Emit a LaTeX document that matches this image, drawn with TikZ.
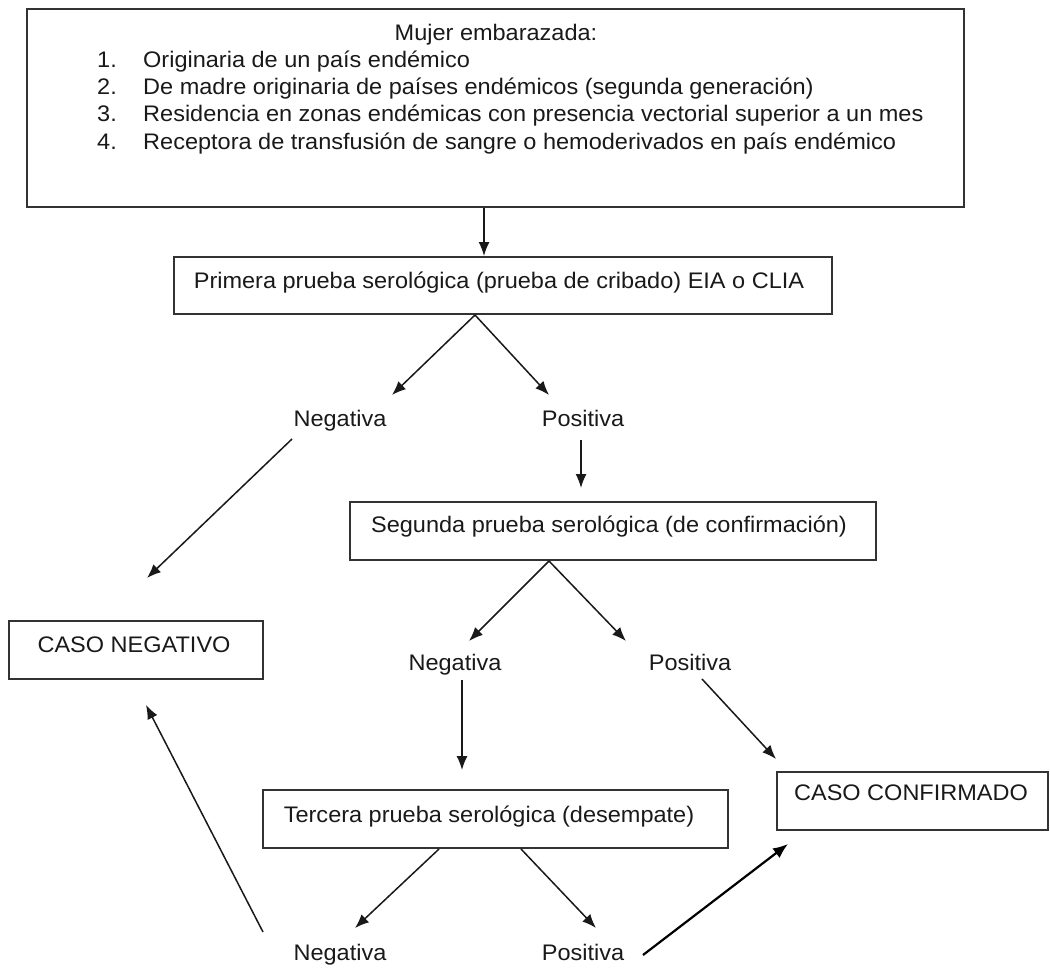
\documentclass[tikz,border=0pt]{standalone}
\usepackage{fontspec}
\setmainfont[FakeStretch=1.045]{Liberation Sans}
\usetikzlibrary{arrows.meta,calc}
\begin{document}
\begin{tikzpicture}[x=1pt,y=-1pt,
  font=\fontsize{22.5}{27}\selectfont,
  box/.style={draw=black!80, line width=2pt, inner sep=0pt},
  txt/.style={inner sep=0pt, text height=16pt, text depth=5pt, text=black!90},
  arr/.style={-{Latex[length=14pt,width=11pt]}, line width=1.5pt, draw=black!90},
  thickarr/.style={-{Latex[length=15pt,width=12pt]}, line width=2.2pt}]
\useasboundingbox (0,0) rectangle (1050,969);
% boxes
\node[box, minimum width=937pt, minimum height=198pt] (top) at (495.5,108) {};
\node[box, minimum width=658pt, minimum height=57pt] (primera) at (503,285.5) {};
\node[box, minimum width=526pt, minimum height=58pt] (segunda) at (613,531) {};
\node[box, minimum width=254pt, minimum height=58pt] (cneg) at (136,650) {};
\node[box, minimum width=271pt, minimum height=58pt] (cconf) at (912.5,801) {};
\node[box, minimum width=465pt, minimum height=58pt] (tercera) at (495.5,819) {};
% box texts
\node[txt] (t0) at (496,35) {Mujer embarazada:};
\node[txt, anchor=west] (n1) at (97,62) {1.};
\node[txt, anchor=west] (n2) at (97,89) {2.};
\node[txt, anchor=west] (n3) at (97,116) {3.};
\node[txt, anchor=west] (n4) at (97,144) {4.};
\node[txt, anchor=west] (i1) at (143,62) {Originaria de un país endémico};
\node[txt, anchor=west] (i2) at (143,89) {De madre originaria de países endémicos (segunda generación)};
\node[txt, anchor=west] (i3) at (143,116) {Residencia en zonas endémicas con presencia vectorial superior a un mes};
\node[txt, anchor=west] (i4) at (143,144) {Receptora de transfusión de sangre o hemoderivados en país endémico};
\node[txt] (tp) at (499,283) {Primera prueba serológica (prueba de cribado) EIA o CLIA};
\node[txt] (ts) at (609,527) {Segunda prueba serológica (de confirmación)};
\node[txt] (tn) at (134,647) {CASO NEGATIVO};
\node[txt] (tc) at (911,795) {CASO CONFIRMADO};
\node[txt] (tt) at (489,817) {Tercera prueba serológica (desempate)};
% labels
\node[txt] (neg1) at (340,421) {Negativa};
\node[txt] (pos1) at (583,421) {Positiva};
\node[txt] (neg2) at (455,665) {Negativa};
\node[txt] (pos2) at (690,665) {Positiva};
\node[txt] (neg3) at (340,955) {Negativa};
\node[txt] (pos3) at (583,955) {Positiva};
% connectors
\draw[arr] ($(top.south)+(-11.5,0)$) -- ($(primera.north)+(-19,0)$);
\draw[arr] ($(primera.south)+(-28,0)$) -- ($(neg1)+(52,-26)$);
\draw[arr] ($(primera.south)+(-28,0)$) -- ($(pos1)+(-34,-26)$);
\draw[arr] ($(neg1)+(-48,18)$) -- ($(cneg.north)+(11,-42)$);
\draw[arr] ($(pos1)+(-2,19)$) -- ($(segunda.north)+(-32,-13)$);
\draw[arr] ($(segunda.south)+(-64,0)$) -- ($(neg2)+(14,-24)$);
\draw[arr] ($(segunda.south)+(-64,0)$) -- ($(pos2)+(-64,-24)$);
\draw[arr] ($(neg2)+(7,15)$) -- ($(tercera.north)+(-33.5,-19)$);
\draw[arr] ($(pos2)+(12,14)$) -- ($(cconf.north)+(-136.5,-12)$);
\draw[arr] ($(tercera.south)+(-56.5,0)$) -- ($(neg3)+(15,-27)$);
\draw[arr] ($(tercera.south)+(25.5,0)$) -- ($(pos3)+(13,-27)$);
\draw[arr] ($(neg3)+(-77,-23)$) -- ($(cneg.south)+(10,25)$);
\draw[thickarr] ($(pos3)+(60,0)$) -- ($(cconf.south)+(-124.5,13)$);
\end{tikzpicture}
\end{document}
